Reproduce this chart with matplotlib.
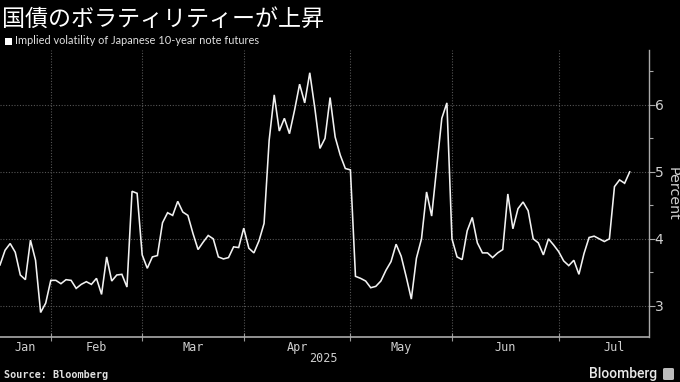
import matplotlib
matplotlib.use("Agg")
import matplotlib.pyplot as plt
from matplotlib.patches import Rectangle, FancyBboxPatch
import numpy as np
import pandas as pd

# ---- data -------------------------------------------------------------
title = "国債のボラティリティーが上昇"
series_label = "Implied volatility of Japanese 10-year note futures"
jp_holidays = ["2025-02-11", "2025-02-24", "2025-03-20", "2025-04-29",
               "2025-05-05", "2025-05-06", "2025-07-21"]
start_date = "2025-01-20"
end_date = "2025-07-22"
values = [
    3.61, 3.83, 3.93, 3.80, 3.46, 3.39, 3.98, 3.68, 2.90, 3.04,
    3.38, 3.38, 3.33, 3.39, 3.38, 3.26, 3.32, 3.36, 3.32, 3.41,
    3.17, 3.73, 3.37, 3.46, 3.47, 3.28, 4.71, 4.68, 3.76, 3.56,
    3.73, 3.75, 4.24, 4.39, 4.35, 4.56, 4.40, 4.35, 4.08, 3.84,
    3.95, 4.05, 4.00, 3.73, 3.70, 3.72, 3.88, 3.87, 4.16, 3.86,
    3.79, 3.97, 4.23, 5.47, 6.15, 5.61, 5.80, 5.57, 5.92, 6.31,
    6.03, 6.48, 5.95, 5.35, 5.50, 6.11, 5.52, 5.25, 5.05, 5.03,
    3.44, 3.41, 3.37, 3.27, 3.29, 3.37, 3.53, 3.66, 3.92, 3.74,
    3.43, 3.10, 3.71, 4.00, 4.70, 4.34, 5.07, 5.80, 6.03, 4.00,
    3.73, 3.69, 4.12, 4.32, 3.94, 3.79, 3.79, 3.72, 3.79, 3.84,
    4.67, 4.15, 4.45, 4.55, 4.42, 4.00, 3.94, 3.76, 4.00, 3.91,
    3.81, 3.67, 3.60, 3.68, 3.47, 3.78, 4.02, 4.04, 4.00, 3.96,
    4.00, 4.78, 4.88, 4.83, 5.00,
]
y_ticks = [3, 4, 5, 6]
year_label = "2025"
source_text = "Source: Bloomberg"
brand_text = "Bloomberg"

# ---- trading-day axis -------------------------------------------------
dates = pd.bdate_range(start_date, end_date)
dates = dates[~dates.isin(pd.to_datetime(jp_holidays))]
x = np.arange(len(values))
months = dates.to_period("M")
month_starts = [i for i in range(len(dates)) if i == 0 or months[i] != months[i - 1]]
month_names = [dates[i].strftime("%b") for i in month_starts]
last_month_end = pd.Timestamp(dates[-1].year, dates[-1].month, 1) + pd.offsets.MonthEnd(0)
full_last = pd.bdate_range(dates[month_starts[-1]], last_month_end)
full_last = full_last[~full_last.isin(pd.to_datetime(jp_holidays))]
bounds = month_starts + [month_starts[-1] + len(full_last)]
label_pos = [(bounds[k] + bounds[k + 1]) / 2 for k in range(len(month_starts))]

# ---- figure -----------------------------------------------------------
W, H = 680, 382
fig = plt.figure(figsize=(W / 100, H / 100), dpi=100, facecolor="black")
ax = fig.add_axes([0, 1 - 337 / H, 649 / W, (337 - 50) / H], facecolor="black")

ax.plot(x, values, color="#f2f2f2", lw=1.15, solid_joinstyle="miter", zorder=3)

ax.set_xlim(0, 127.8)
ax.set_ylim(2.534, 6.82)

# grid
ax.set_yticks(y_ticks)
ax.set_yticks([3.5, 4.5, 5.5, 6.5], minor=True)
for v in y_ticks:
    ax.axhline(v, color="#555555", lw=0.8, ls=(0, (1, 1.5)), zorder=1)
for b in month_starts[1:]:
    ax.axvline(b, color="#555555", lw=0.8, ls=(0, (1, 1.5)), zorder=1)

# x axis: ticks at month starts, labels centred in month
ax.set_xticks(month_starts[1:])
ax.set_xticklabels([])
ax.set_xticks(label_pos, minor=True)
ax.set_xticklabels(month_names, minor=True)
ax.tick_params(axis="x", which="major", direction="inout", length=6, width=0.8, color="#999999")
ax.tick_params(axis="x", which="minor", length=0, pad=3, labelsize=8.5, labelcolor="#cfcfcf")
for lab in ax.get_xticklabels(minor=True):
    lab.set_family(["DejaVu Sans Mono"])

# y axis on right
ax.yaxis.tick_right()
ax.yaxis.set_label_position("right")
ax.tick_params(axis="y", which="major", direction="out", length=4, width=0.8,
               color="#aaaaaa", labelsize=10, labelcolor="#d0d0d0", pad=0)
ax.tick_params(axis="y", which="minor", direction="out", length=3, width=0.8, color="#aaaaaa")
ax.set_ylabel("Percent", rotation=270, color="#d0d0d0", fontsize=10.3, labelpad=12)

for s in ["top", "left"]:
    ax.spines[s].set_visible(False)
ax.spines["right"].set_color("#aaaaaa")
ax.spines["right"].set_linewidth(1.0)
ax.spines["bottom"].set_color("#aaaaaa")
ax.spines["bottom"].set_linewidth(1.2)

# ---- texts ------------------------------------------------------------
fig.text(2 / W, 1 - 19 / H, title, fontsize=16.6, color="white", va="center", ha="left",
         family=["Noto Sans CJK JP", "DejaVu Sans"])
fig.patches.append(Rectangle((5 / W, 1 - 45 / H), 7 / W, 7 / H, transform=fig.transFigure,
                             facecolor="white", edgecolor="none"))
fig.text(15 / W, 1 - 41 / H, series_label, fontsize=7.9, color="#e0e0e0", va="center", ha="left",
         family=["Lato", "DejaVu Sans"])
fig.text(323 / W, 1 - 358 / H, year_label, fontsize=8.5, color="#cfcfcf", va="center", ha="center",
         family=["DejaVu Sans Mono"])
fig.text(4 / W, 1 - 375 / H, source_text, fontsize=7.3, color="#e0e0e0", va="center", ha="left",
         family=["DejaVu Sans Mono"], fontweight="bold")
fig.text(657 / W, 1 - 374 / H, brand_text, fontsize=10, color="#e8e8e8", va="center", ha="right",
         family=["Roboto", "DejaVu Sans"], fontweight="medium")
fig.patches.append(FancyBboxPatch((663 / W, 1 - 380 / H), 11 / W, 12 / H,
                                  boxstyle="round,pad=0,rounding_size=0.003",
                                  transform=fig.transFigure, facecolor="#bbbbbb", edgecolor="none"))

fig.savefig("out.png", dpi=100, facecolor="black")
